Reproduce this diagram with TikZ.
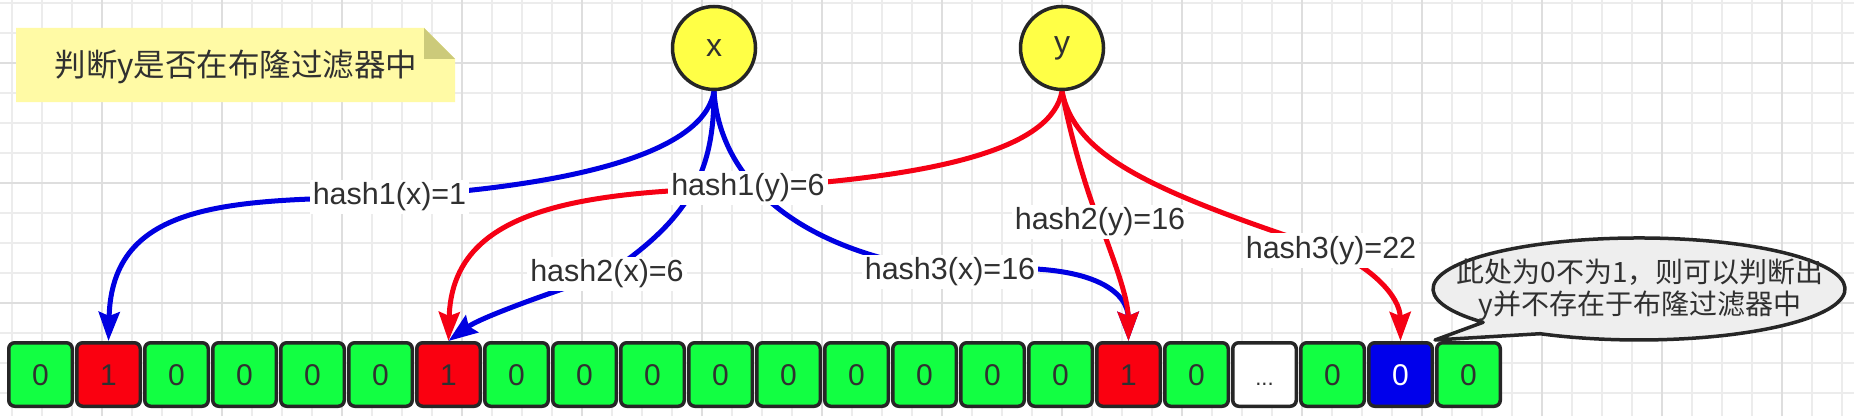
\documentclass[tikz,border=0pt]{standalone}
\usepackage{fontspec}
\setmainfont{Liberation Sans}
\newfontfamily\cjk{Noto Sans CJK SC}
\usetikzlibrary{arrows.meta}
\definecolor{gridminor}{RGB}{236,236,236}
\definecolor{gridmajor}{RGB}{222,222,222}
\definecolor{cgreen}{RGB}{18,255,66}
\definecolor{cred}{RGB}{250,0,16}
\definecolor{cblue}{RGB}{0,0,235}
\definecolor{ablue}{RGB}{0,0,225}
\definecolor{ared}{RGB}{245,0,20}
\definecolor{ink}{RGB}{48,48,48}
\definecolor{border}{RGB}{38,38,38}
\definecolor{cyellow}{RGB}{255,255,70}
\definecolor{notefill}{RGB}{255,250,165}
\definecolor{notefold}{RGB}{204,202,122}
\definecolor{bubblefill}{RGB}{238,238,238}
\pgfdeclarelayer{gridlayer}
\pgfdeclarelayer{edgelayer}
\pgfsetlayers{gridlayer,edgelayer,main}
\begin{document}
\begin{tikzpicture}[x=1pt,y=1pt,
  cell/.style={draw=border, line width=3.5pt, rounded corners=6pt,
    minimum width=63.5pt, minimum height=63.5pt, inner sep=0pt, text=ink,
    font=\fontsize{30}{30}\selectfont, text height=21.5pt, text depth=0pt},
  keynode/.style={circle, draw=border, fill=cyellow, line width=3.5pt,
    minimum size=83pt, inner sep=0pt, text=ink, font=\fontsize{32}{32}\selectfont},
  lbl/.style={fill=white, text=ink, font=\fontsize{30.5}{30.5}\selectfont,
    inner xsep=3pt, inner ysep=3pt},
  tipstyle/.style={-{Stealth[length=29pt,width=21pt,inset=4pt]}},
  bedge/.style={draw=ablue, line width=5pt, tipstyle},
  redge/.style={draw=ared, line width=5pt, tipstyle},
  gminor/.style={draw=gridminor, line width=1.5pt},
  gmajor/.style={draw=gridmajor, line width=2pt}
]
\useasboundingbox (0,0) rectangle (1854,416);

% grid
\begin{pgfonlayer}{gridlayer}
  \fill[white] (0,0) rectangle (1854,416);
  \foreach \gx in {12,42,...,1854} \draw[gminor] (\gx,0) -- (\gx,416);
  \foreach \gy in {413,383,...,0} \draw[gminor] (0,\gy) -- (1854,\gy);
  \foreach \gx in {102,222,...,1854} \draw[gmajor] (\gx,0) -- (\gx,416);
  \foreach \gy in {353,233,113} \draw[gmajor] (0,\gy) -- (1854,\gy);
\end{pgfonlayer}

% note
\fill[notefill] (16,314) -- (16,388) -- (424,388) -- (455,357) -- (455,314) -- cycle;
\fill[notefold] (424,388) -- (424,357) -- (455,357) -- cycle;
\node[font=\cjk\fontsize{31.5}{31.5}\selectfont, text=ink] (note) at (236,349) {判断y是否在布隆过滤器中};

% key circles
\node[keynode] (nx) at (714,368) {x};
\node[keynode] (ny) at (1062,368) {y};

% bit cells
\foreach \i/\v/\f/\t in {0/0/cgreen/ink, 1/1/cred/ink, 2/0/cgreen/ink, 3/0/cgreen/ink,
  4/0/cgreen/ink, 5/0/cgreen/ink, 6/1/cred/ink, 7/0/cgreen/ink, 8/0/cgreen/ink,
  9/0/cgreen/ink, 10/0/cgreen/ink, 11/0/cgreen/ink, 12/0/cgreen/ink, 13/0/cgreen/ink,
  14/0/cgreen/ink, 15/0/cgreen/ink, 16/1/cred/ink, 17/0/cgreen/ink,
  19/0/cgreen/ink, 20/0/cblue/white, 21/0/cgreen/ink}
  \node[cell, fill=\f, text=\t] (c\i) at ({40.5+68*\i},41.5) {\v};
\node[cell, fill=white, font=\fontsize{22}{22}\selectfont] (c18) at ({40.5+68*18},41.5) {...};

% hash labels
\node[lbl] (l1) at (389.5,219) {hash1(x)=1};
\node[lbl] (l2) at (748,228) {hash1(y)=6};
\node[lbl] (l3) at (607,142) {hash2(x)=6};
\node[lbl] (l4) at (950,144) {hash3(x)=16};
\node[lbl] (l5) at (1100,194) {hash2(y)=16};
\node[lbl] (l6) at (1331,165.5) {hash3(y)=22};

% callout
\draw[draw=border, fill=bubblefill, line width=3.5pt, line join=round]
  (1483.1,93.7) arc[start angle=220.8, end angle=-118.7, x radius=206pt, y radius=51pt]
  -- (1435,76) -- cycle;
\node[align=center, font=\cjk\fontsize{28}{32}\selectfont, text=ink] (callout) at (1640,126)
  {此处为0不为1，则可以判断出\\y并不存在于布隆过滤器中};

% edges
\begin{pgfonlayer}{edgelayer}
  \draw[bedge] (nx.south) .. controls (705,270) and (600,232) .. (l1.center)
    .. controls (230,216) and (112,215) .. (c1.north);
  \draw[redge] (ny.south) .. controls (1052,270) and (950,240) .. (l2.center)
    .. controls (560,225) and (452,200) .. (c6.north);
  \draw[bedge] (nx.south) .. controls (714,250) and (695,200) .. (l3.center)
    .. controls (540,120) and (480,98) .. (c6.north);
  \draw[bedge] (nx.south) .. controls (718,260) and (765,170) .. (l4.center)
    .. controls (1100,160) and (1128,120) .. (c16.north);
  \draw[redge] (ny.south) .. controls (1072,270) and (1095,200) .. (l5.center)
    .. controls (1112,160) and (1128,120) .. (c16.north);
  \draw[redge] (ny.south) .. controls (1075,260) and (1150,225) .. (l6.center)
    .. controls (1370,150) and (1400,120) .. (c20.north);
\end{pgfonlayer}
\end{tikzpicture}
\end{document}
